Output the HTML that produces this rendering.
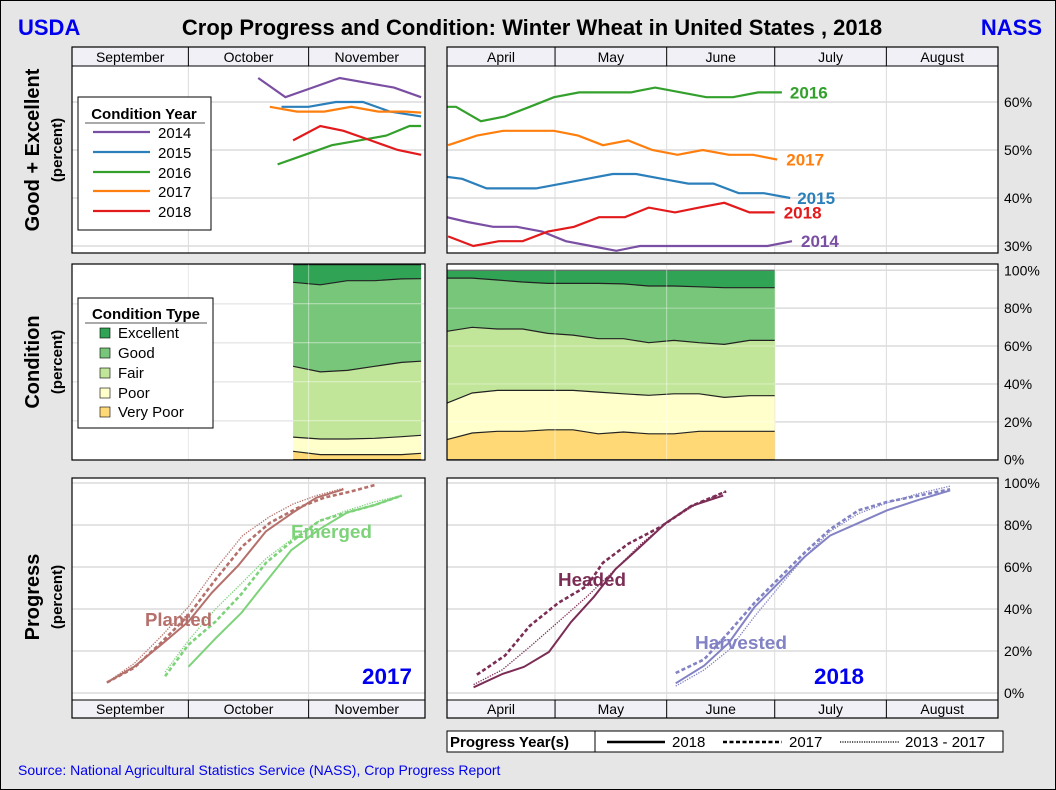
<!DOCTYPE html>
<html><head><meta charset="utf-8"><style>
html,body{margin:0;padding:0;background:#e6e6e6;}
svg{display:block;font-family:"Liberation Sans",Arial,sans-serif;}
</style></head><body>
<svg id="chart" width="1056" height="790" viewBox="0 0 1056 790" xmlns="http://www.w3.org/2000/svg">
<defs>
<clipPath id="cTL"><rect x="72" y="66" width="353" height="187"/></clipPath>
<clipPath id="cTR"><rect x="447" y="66" width="551" height="187"/></clipPath>
<clipPath id="cPL"><rect x="72" y="478" width="353" height="222"/></clipPath>
<clipPath id="cPR"><rect x="447" y="478" width="551" height="222"/></clipPath>
</defs>
<rect x="0.5" y="0.5" width="1055" height="789" fill="#e6e6e6" stroke="#000"/>
<text x="18" y="35" font-size="22" font-weight="bold" fill="#0000ee">USDA</text>
<text x="532" y="35" font-size="22" font-weight="bold" text-anchor="middle">Crop Progress and Condition: Winter Wheat in United States , 2018</text>
<text x="1042" y="35" font-size="22" font-weight="bold" fill="#0000ee" text-anchor="end">NASS</text>

<text transform="translate(39,150) rotate(-90)" font-size="20" font-weight="bold" text-anchor="middle">Good + Excellent</text>
<text transform="translate(62,150) rotate(-90)" font-size="15" font-weight="bold" text-anchor="middle">(percent)</text>
<text transform="translate(39,362) rotate(-90)" font-size="20" font-weight="bold" text-anchor="middle">Condition</text>
<text transform="translate(62,362) rotate(-90)" font-size="15" font-weight="bold" text-anchor="middle">(percent)</text>
<text transform="translate(39,597) rotate(-90)" font-size="20" font-weight="bold" text-anchor="middle">Progress</text>
<text transform="translate(62,597) rotate(-90)" font-size="15" font-weight="bold" text-anchor="middle">(percent)</text>

<g id="layer"></g>

<g>
<rect x="78" y="97" width="133" height="133" fill="#fff" stroke="#000"/>
<text x="144" y="119" font-size="15" font-weight="bold" text-anchor="middle">Condition Year</text>
<line x1="85" y1="123" x2="205" y2="123" stroke="#555"/>
<line x1="93" y1="132" x2="150" y2="132" stroke="#7a4fa3" stroke-width="2.2"/><text x="158" y="138" font-size="15">2014</text>
<line x1="93" y1="152" x2="150" y2="152" stroke="#2b7fba" stroke-width="2.2"/><text x="158" y="158" font-size="15">2015</text>
<line x1="93" y1="172" x2="150" y2="172" stroke="#33a02c" stroke-width="2.2"/><text x="158" y="178" font-size="15">2016</text>
<line x1="93" y1="191" x2="150" y2="191" stroke="#ff7f0e" stroke-width="2.2"/><text x="158" y="197" font-size="15">2017</text>
<line x1="93" y1="211" x2="150" y2="211" stroke="#e31a1c" stroke-width="2.2"/><text x="158" y="217" font-size="15">2018</text>
</g>

<g>
<rect x="78" y="298" width="135" height="130" fill="#fff" stroke="#000"/>
<text x="146" y="319" font-size="15" font-weight="bold" text-anchor="middle">Condition Type</text>
<line x1="85" y1="323" x2="207" y2="323" stroke="#555"/>
<rect x="100" y="328" width="10" height="10" fill="#31a354" stroke="#000" stroke-width="0.6"/><text x="118" y="338" font-size="15">Excellent</text>
<rect x="100" y="348" width="10" height="10" fill="#78c679" stroke="#000" stroke-width="0.6"/><text x="118" y="358" font-size="15">Good</text>
<rect x="100" y="368" width="10" height="10" fill="#c2e699" stroke="#000" stroke-width="0.6"/><text x="118" y="378" font-size="15">Fair</text>
<rect x="100" y="388" width="10" height="10" fill="#ffffcc" stroke="#000" stroke-width="0.6"/><text x="118" y="398" font-size="15">Poor</text>
<rect x="100" y="407" width="10" height="10" fill="#fed976" stroke="#000" stroke-width="0.6"/><text x="118" y="417" font-size="15">Very Poor</text>
</g>

<g>
<rect x="447" y="731" width="556" height="21" fill="#fff" stroke="#000"/>
<text x="450" y="747" font-size="15" font-weight="bold">Progress Year(s)</text>
<line x1="595" y1="731" x2="595" y2="752" stroke="#000"/>
<line x1="607" y1="742" x2="665" y2="742" stroke="#000" stroke-width="2.5"/><text x="672" y="747" font-size="15">2018</text>
<line x1="723" y1="742" x2="782" y2="742" stroke="#000" stroke-width="2.5" stroke-dasharray="4,2.5"/><text x="789" y="747" font-size="15">2017</text>
<line x1="840" y1="742" x2="900" y2="742" stroke="#000" stroke-width="1.2" stroke-dasharray="1.2,1.2"/><text x="905" y="747" font-size="15">2013 - 2017</text>
</g>

<text x="18" y="775" font-size="14" fill="#0000ee">Source: National Agricultural Statistics Service (NASS), Crop Progress Report</text>

<script>
// ---------- DATA ----------
// Good+Excellent, fall (days from Sep 1)
const geFallDays2014 = [48,55,62,69,76,83,90];
const geFall2014 = [65,61,63,65,64,63,61];
const geFallDays2015 = [54,61,68,75,82,90];
const geFall2015 = [59,59,60,60,58,57];
const geFallDays2016 = [53,60,67,74,81,87,90];
const geFall2016 = [47,49,51,52,53,55,55];
const geFallDays2017 = [51,58,65,72,79,86,90];
const geFall2017 = [59,58,58,59,58,58,57.8];
const geFallDays2018 = [57,64,70,77,84,90];
const geFall2018 = [52,55,54,52,50,49];
// Good+Excellent, spring (days from Apr 1)
const geSprDays2014 = [0,5.7,12.8,19.4,26.4,33,40,47,53.6,60.8,67.8,75,82,89,95.8];
const geSpr2014 = [36,35,34,34,33,31,30,29,30,30,30,30,30,30,31];
const geSprDays2015 = [0,4.2,11,18,24.7,32,38.9,46,52.5,59.7,67,74,81,88,95.3];
const geSpr2015 = [44.4,44,42,42,42,43,44,45,45,44,43,43,41,41,40];
const geSprDays2016 = [0,2.5,9.4,16.1,23,29.7,36.7,44,51,57.8,65,72,79.4,86.4,93];
const geSpr2016 = [59,59,56,57,59,61,62,62,62,63,62,61,61,62,62];
const geSprDays2017 = [0.3,8.3,15.6,22.5,29.7,36.4,43.3,50.3,57,64,71,78.3,85,91.7];
const geSpr2017 = [51,53,54,54,54,53,51,52,50,49,50,49,49,48];
const geSprDays2018 = [0.3,7.3,14.4,21,28,35.3,42.2,49.4,56,63.3,70,77,84,91];
const geSpr2018 = [32,30,31,31,33,34,36,36,38,37,38,39,37,37];
// Condition cumulative tops (very poor, +poor, +fair, +good), fall 2017
const condFallDays = [57,64,71,78,85,90];
const condFallVP = [4.3,2.6,2.6,2.6,2.6,3.3];
const condFallP = [11.6,10.6,10.6,11,11.8,12.5];
const condFallF = [47.9,45,45.8,47.9,49.9,50.5];
const condFallG = [91,89.7,91.8,91.8,92.7,92.8];
// Condition, spring 2018
const condSprDays = [0,7,14,21,28,35,42,49,56,63,70,77,84,91];
const condSprVP = [10.6,14.1,15,15,15.8,15.8,13.7,14.6,13.7,13.7,15,15,15,15];
const condSprP = [29.9,35.2,36.6,36.6,36.6,36.6,35.7,34.8,34,34.8,34.8,32.9,33.8,33.8];
const condSprF = [67.8,69.9,69,69,66.7,65.8,63.9,63.9,61.8,63,61.8,60.9,63,63];
const condSprG = [95.9,95.9,94.9,93.8,93.1,93.1,93.1,92.8,91.7,91.7,91.3,90.8,90.8,90.8];
// Progress, fall (days from Sep 1)
const plantedDays18 = [9,16,23,30,36,43,50,57,63,70];
const planted18 = [5,12.5,23,34,47.6,61,77,86,93,97];
const plantedDays17 = [9,16,23,30,37,44,51,58,65,72,78];
const planted17 = [5,12,24,37,54,70,81,88,93,96,99];
const plantedDaysAvg = [9,16,23,30,37,44,51,57,63,70];
const plantedAvg = [5,14,27,41,59,75,84,90,94,97.5];
const emergedDays18 = [30,37,43.6,50,56.5,63.8,71,78,85];
const emerged18 = [12.5,26,38,53,68,78,86,89.5,94];
const emergedDays17 = [24,30,37,43.6,50,56.5,63.8,71,78,85];
const emerged17 = [8,23,34,47,62,72,82,86,89.5,94];
const emergedDaysAvg = [24,30,37,43.6,50,56.5,63.8,71,78,85];
const emergedAvg = [10,25,40,52,64,73,82,87,91,94];
// Progress, spring (days from Apr 1)
const headedDays18 = [7.4,15.3,21.4,28.3,34.4,40.7,46.8,53.9,60.8,67.8,76.7];
const headed18 = [2.7,9,12.5,19.5,33.7,45.6,59,70,81,89,94];
const headedDays17 = [8.3,16.1,23,31,38.9,43.3,50.3,59.2,67.8,77.5];
const headed17 = [8.7,17.8,32,43,51,62,71,79,89,96];
const headedDaysAvg = [7.4,15.3,23,31,38.9,46.8,53.9,61.7,69.4,77.5];
const headedAvg = [4,11,22,34,46,59,71,82,90,96];
const harvDays = [63.5,71.4,78.3,85.4,92.4,99.4,106.4,114.3,122.2,131,139.7];
const harv18 = [4.6,13,24,41,53,65,75,81,87,92,96.5];
const harv17 = [9.5,16,29,43,55,67,78,87,91,94,97];
const harvAvg = [3.3,11,20.5,36.5,51,65,77,85.5,90.5,95,98.5];
// Tick labels
const geTicks = [60,50,40,30];
const pctTicks = [100,80,60,40,20,0];
const fallMonths = ["September","October","November"];
const fallMonthDays = [0,30,61,91];
const sprMonths = ["April","May","June","July","August"];
const sprMonthDays = [0,30,61,91,122,153];

// ---------- SCALES ----------
const fallX = d => 72 + d * 353 / 91;
const sprX = d => 447 + d * 551 / 153;
const geY = v => 102 + (60 - v) * 4.8;
const condLY = p => 459.7 - p * 1.95;
const condRY = p => 459.7 - p * 1.894;
const progY = p => 693 - p * 2.1;

const NS = "http://www.w3.org/2000/svg";
const layer = document.getElementById("layer");
function mk(tag, attrs, parent) {
  const e = document.createElementNS(NS, tag);
  for (const k in attrs) e.setAttribute(k, attrs[k]);
  (parent || layer).appendChild(e);
  return e;
}
function pts(xs, ys, xf, yf) { return xs.map((d, i) => xf(d).toFixed(1) + "," + yf(ys[i]).toFixed(1)).join(" "); }

// ---------- PANELS ----------
function panel(name, x, y, w, h) {
  const r = mk("rect", {x: x, y: y, width: w, height: h, fill: "#fff"});
  
  
}
function strip(name, x, y, w, h, months, mdays, xf) {
  const g = mk("g", {});
  
  
  mk("rect", {x: x, y: y, width: w, height: h, fill: "#f0f0f6", stroke: "#000"}, g);
  months.forEach((m, i) => {
    const x0 = xf(mdays[i]), x1 = xf(mdays[i + 1]);
    if (i > 0) mk("line", {x1: x0, y1: y, x2: x0, y2: y + h, stroke: "#000"}, g);
    const t = mk("text", {x: (x0 + x1) / 2, y: y + h - 4, "font-size": 14, "text-anchor": "middle"}, g);
    t.textContent = m;
    
    
  });
}
function grid(x0, x1, y0, y1, yvals, yf, xdays, xf) {
  yvals.forEach(v => mk("line", {x1: x0, y1: yf(v), x2: x1, y2: yf(v), stroke: "#dcdcdc", "stroke-width": 1.5}));
  xdays.forEach(d => mk("line", {x1: xf(d), y1: y0, x2: xf(d), y2: y1, stroke: "#dcdcdc", "stroke-width": 1}));
}
function frame(x, y, w, h) { mk("rect", {x: x, y: y, width: w, height: h, fill: "none", stroke: "#000", "stroke-width": 1.2}); }
function ylabels(vals, yf, name) {
  vals.forEach(v => {
    const t = mk("text", {x: 1004, y: yf(v) + 5, "font-size": 14});
    t.textContent = v + "%";
    
    
  });
}

// Top panels
panel("good-excellent-fall-panel", 72, 66, 353, 187);
panel("good-excellent-spring-panel", 447, 66, 551, 187);
grid(72, 425, 66, 253, geTicks, geY, [30, 61], fallX);
grid(447, 998, 66, 253, geTicks, geY, [30, 61, 91, 122], sprX);
strip("fall-month-strip-top", 72, 47, 353, 19, fallMonths, fallMonthDays, fallX);
strip("spring-month-strip-top", 447, 47, 551, 19, sprMonths, sprMonthDays, sprX);
ylabels(geTicks, geY, "ge-y-tick");

// Condition panels
panel("condition-fall-panel", 72, 264, 353, 196);
panel("condition-spring-panel", 447, 264, 551, 196);
grid(72, 425, 264, 460, [80, 60, 40, 20], condLY, [30, 61], fallX);
grid(447, 998, 264, 460, pctTicks, condRY, [30, 61, 91, 122], sprX);
ylabels(pctTicks, condRY, "condition-y-tick");

// Progress panels
panel("progress-fall-panel", 72, 478, 353, 222);
panel("progress-spring-panel", 447, 478, 551, 222);
grid(72, 425, 478, 700, pctTicks, progY, [30, 61], fallX);
grid(447, 998, 478, 700, pctTicks, progY, [30, 61, 91, 122], sprX);
strip("fall-month-strip-bottom", 72, 700, 353, 18, fallMonths, fallMonthDays, fallX);
strip("spring-month-strip-bottom", 447, 700, 551, 18, sprMonths, sprMonthDays, sprX);
ylabels(pctTicks, progY, "progress-y-tick");

// ---------- GOOD + EXCELLENT LINES ----------
const yearColors = {2014: "#7a4fa3", 2015: "#2b7fba", 2016: "#33a02c", 2017: "#ff7f0e", 2018: "#e31a1c"};
function geLine(days, vals, xf, color, clip, name) {
  const p = mk("polyline", {points: pts(days, vals, xf, geY), fill: "none", stroke: color, "stroke-width": 2.2, "clip-path": "url(#" + clip + ")"});
  
  
}
geLine(geFallDays2014, geFall2014, fallX, yearColors[2014], "cTL", "ge-fall-2014-line");
geLine(geFallDays2015, geFall2015, fallX, yearColors[2015], "cTL", "ge-fall-2015-line");
geLine(geFallDays2016, geFall2016, fallX, yearColors[2016], "cTL", "ge-fall-2016-line");
geLine(geFallDays2017, geFall2017, fallX, yearColors[2017], "cTL", "ge-fall-2017-line");
geLine(geFallDays2018, geFall2018, fallX, yearColors[2018], "cTL", "ge-fall-2018-line");
geLine(geSprDays2014, geSpr2014, sprX, yearColors[2014], "cTR", "ge-spring-2014-line");
geLine(geSprDays2015, geSpr2015, sprX, yearColors[2015], "cTR", "ge-spring-2015-line");
geLine(geSprDays2016, geSpr2016, sprX, yearColors[2016], "cTR", "ge-spring-2016-line");
geLine(geSprDays2017, geSpr2017, sprX, yearColors[2017], "cTR", "ge-spring-2017-line");
geLine(geSprDays2018, geSpr2018, sprX, yearColors[2018], "cTR", "ge-spring-2018-line");
function endLabel(days, vals, yr, dx, dy) {
  const n = days.length - 1;
  const t = mk("text", {x: sprX(days[n]) + dx, y: geY(vals[n]) + dy, "font-size": 17, "font-weight": "bold", fill: yearColors[yr]});
  t.textContent = String(yr);
  
  
}
endLabel(geSprDays2016, geSpr2016, 2016, 8, 6);
endLabel(geSprDays2017, geSpr2017, 2017, 9, 6);
endLabel(geSprDays2015, geSpr2015, 2015, 7, 6);
endLabel(geSprDays2018, geSpr2018, 2018, 9, 6);
endLabel(geSprDays2014, geSpr2014, 2014, 9, 6);

// ---------- CONDITION STACKS ----------
const condColors = ["#fed976", "#ffffcc", "#c2e699", "#78c679", "#31a354"];
const condNames = ["very-poor", "poor", "fair", "good", "excellent"];
function stack(days, layers, xf, yf, prefix) {
  const top100 = days.map(() => 100);
  const zero = days.map(() => 0);
  const all = [zero].concat(layers).concat([top100]);
  for (let k = 0; k < 5; k++) {
    const lo = all[k], hi = all[k + 1];
    const up = days.map((d, i) => xf(d).toFixed(1) + "," + yf(hi[i]).toFixed(1));
    const dn = days.map((d, i) => xf(d).toFixed(1) + "," + yf(lo[i]).toFixed(1)).reverse();
    const a = mk("polygon", {points: up.concat(dn).join(" "), fill: condColors[k]});
    
    
  }
  for (let k = 1; k <= 5; k++) {
    mk("polyline", {points: pts(days, all[k], xf, yf), fill: "none", stroke: "#222", "stroke-width": 1.2});
  }
  mk("line", {x1: xf(days[0]), y1: yf(0), x2: xf(days[days.length - 1]), y2: yf(0), stroke: "#222", "stroke-width": 1.2});
}
stack(condFallDays, [condFallVP, condFallP, condFallF, condFallG], fallX, condLY, "condition-fall");
stack(condSprDays, [condSprVP, condSprP, condSprF, condSprG], sprX, condRY, "condition-spring");
// subtle gridlines over stacks
[80, 60, 40, 20].forEach(v => mk("line", {x1: 72, y1: condLY(v), x2: 425, y2: condLY(v), stroke: "#ffffff", "stroke-opacity": 0.45, "stroke-width": 1.2}));
[30, 61].forEach(d => mk("line", {x1: fallX(d), y1: 264, x2: fallX(d), y2: 460, stroke: "#ffffff", "stroke-opacity": 0.45}));
pctTicks.forEach(v => mk("line", {x1: 447, y1: condRY(v), x2: 776, y2: condRY(v), stroke: "#ffffff", "stroke-opacity": 0.35, "stroke-width": 1.2}));
[30, 61].forEach(d => mk("line", {x1: sprX(d), y1: 264, x2: sprX(d), y2: 460, stroke: "#ffffff", "stroke-opacity": 0.45}));

// ---------- PROGRESS LINES ----------
function prog(days, vals, xf, color, style, clip, name) {
  const a = {points: pts(days, vals, xf, progY), fill: "none", stroke: color, "clip-path": "url(#" + clip + ")", "stroke-linejoin": "round"};
  if (style === "solid") a["stroke-width"] = 2;
  if (style === "dash") { a["stroke-width"] = 2.6; a["stroke-dasharray"] = "4,2.5"; }
  if (style === "dot") { a["stroke-width"] = 1.3; a["stroke-dasharray"] = "1.3,1.3"; }
  const p = mk("polyline", a);
  
  
}
const cPlant = "#b5706b", cEmerg = "#7ed37a", cHead = "#7b2d55", cHarv = "#8282c4";
prog(plantedDaysAvg, plantedAvg, fallX, cPlant, "dot", "cPL", "planted-avg-line");
prog(plantedDays17, planted17, fallX, cPlant, "dash", "cPL", "planted-2017-line");
prog(plantedDays18, planted18, fallX, cPlant, "solid", "cPL", "planted-2018-line");
prog(emergedDaysAvg, emergedAvg, fallX, cEmerg, "dot", "cPL", "emerged-avg-line");
prog(emergedDays17, emerged17, fallX, cEmerg, "dash", "cPL", "emerged-2017-line");
prog(emergedDays18, emerged18, fallX, cEmerg, "solid", "cPL", "emerged-2018-line");
prog(headedDaysAvg, headedAvg, sprX, cHead, "dot", "cPR", "headed-avg-line");
prog(headedDays17, headed17, sprX, cHead, "dash", "cPR", "headed-2017-line");
prog(headedDays18, headed18, sprX, cHead, "solid", "cPR", "headed-2018-line");
prog(harvDays, harvAvg, sprX, cHarv, "dot", "cPR", "harvested-avg-line");
prog(harvDays, harv17, sprX, cHarv, "dash", "cPR", "harvested-2017-line");
prog(harvDays, harv18, sprX, cHarv, "solid", "cPR", "harvested-2018-line");

function label(x, y, txt, color, size, len, name) {
  const t = mk("text", {x: x, y: y, "font-size": size, "font-weight": "bold", fill: color, textLength: len, lengthAdjust: "spacingAndGlyphs"});
  t.textContent = txt;
  
  
}
label(145, 626, "Planted", cPlant, 18, 67, "planted-label");
label(291, 538, "Emerged", cEmerg, 18, 81, "emerged-label");
label(558, 586, "Headed", cHead, 18, 68, "headed-label");
label(695, 649, "Harvested", cHarv, 18, 92, "harvested-label");
label(362, 684, "2017", "#0000ee", 22, 50, "fall-year-label");
label(814, 684, "2018", "#0000ee", 22, 50, "spring-year-label");

// frames
frame(72, 47, 353, 206); frame(447, 47, 551, 206);
frame(72, 264, 353, 196); frame(447, 264, 551, 196);
frame(72, 478, 353, 240); frame(447, 478, 551, 240);
</script>
</svg>
</body></html>
